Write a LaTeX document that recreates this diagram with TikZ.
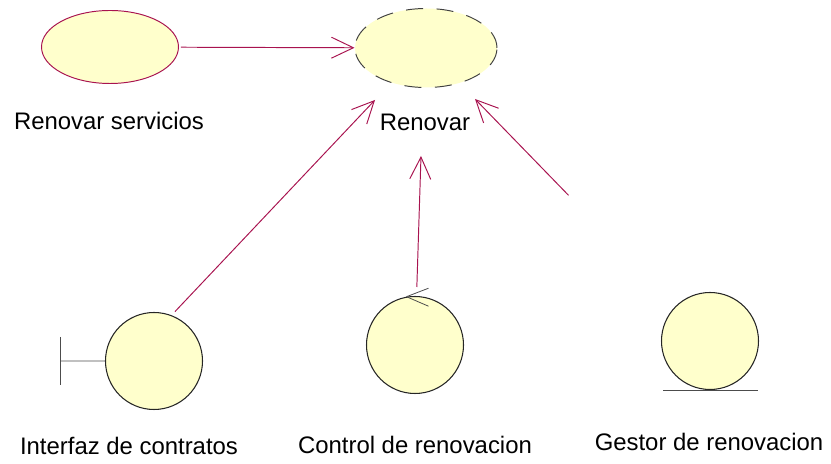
\documentclass[tikz,border=0pt]{standalone}
\usepackage{fontspec}
\setmainfont{Liberation Sans}
\usetikzlibrary{arrows.meta,shapes.geometric}
\definecolor{rosefill}{HTML}{FFFFCC}
\definecolor{roseline}{HTML}{A8134F}
\tikzset{
  usecase/.style={ellipse,draw=roseline,fill=rosefill,line width=0.55pt,inner sep=0pt,minimum width=2.74cm,minimum height=1.46cm},
  realized/.style={usecase,draw=black!75,dash pattern=on 0.34cm off 0.27cm,minimum width=2.84cm,minimum height=1.58cm},
  robust/.style={circle,draw=black!85,fill=rosefill,line width=0.6pt,inner sep=0pt,minimum size=1.94cm},
  tag/.style={font=\fontsize{13.6}{16}\selectfont,inner sep=0pt},
  flow/.style={draw=roseline,line width=0.55pt,-{Straight Barb[length=0.44cm,width=0.42cm,line width=0.55pt]}},
  glyph/.style={draw=black!70,line width=0.45pt}
}
\begin{document}
\begin{tikzpicture}
      \useasboundingbox (0,0) rectangle (16.62,-9.28);

      \node[usecase] (servicios) at (2.2,-0.94) {};
      \node[realized,right of=servicios,xshift=5.32cm,yshift=-0.02cm] (renovar) {};
      \node[robust,below of=servicios,xshift=0.88cm,yshift=-5.28cm] (interfaz) {};
      \node[robust,right of=interfaz,xshift=4.22cm,yshift=0.32cm] (control) {};
      \node[robust,right of=control,xshift=4.9cm,yshift=0.08cm] (gestor) {};

      \node[tag,below of=servicios,xshift=-0.02cm,yshift=-0.48cm] (serviciostag) {Renovar servicios};
      \node[tag,below of=renovar,xshift=-0.02cm,yshift=-0.48cm] (renovartag) {Renovar};
      \node[tag,below of=interfaz,xshift=-0.5cm,yshift=-0.7cm] (interfaztag) {Interfaz de contratos};
      \node[tag,below of=control,yshift=-1cm] (controltag) {Control de renovacion};
      \node[tag,below of=gestor,xshift=-0.02cm,yshift=-1.02cm] (gestortag) {Gestor de renovacion};

      \coordinate (renovarsw) at (7.5,-2.0);
      \coordinate (renovars) at (8.42,-3.12);
      \coordinate (renovarse) at (9.5,-1.98);
      \coordinate (interfazbar) at (1.21,-7.22);

      \draw[flow,shorten <=0.04cm] (servicios) -- (renovar);
      \draw[flow,shorten <=0.1cm] (interfaz.69) -- (renovarsw);
      \draw[flow,shorten <=0.18cm] (control) -- (renovars);
      \draw[flow,shorten <=3.08cm] (gestor) -- (renovarse);

      \draw[glyph] (interfaz) -- (interfazbar);
      \draw[glyph] (1.21,-6.74) -- (1.21,-7.7);
      \draw[glyph] (control.100) -- ++(0.44,0.17);
      \draw[glyph] (control.100) -- ++(0.44,-0.19);
      \draw[glyph] (13.26,-7.81) -- (15.16,-7.81);
    \end{tikzpicture}
\end{document}
